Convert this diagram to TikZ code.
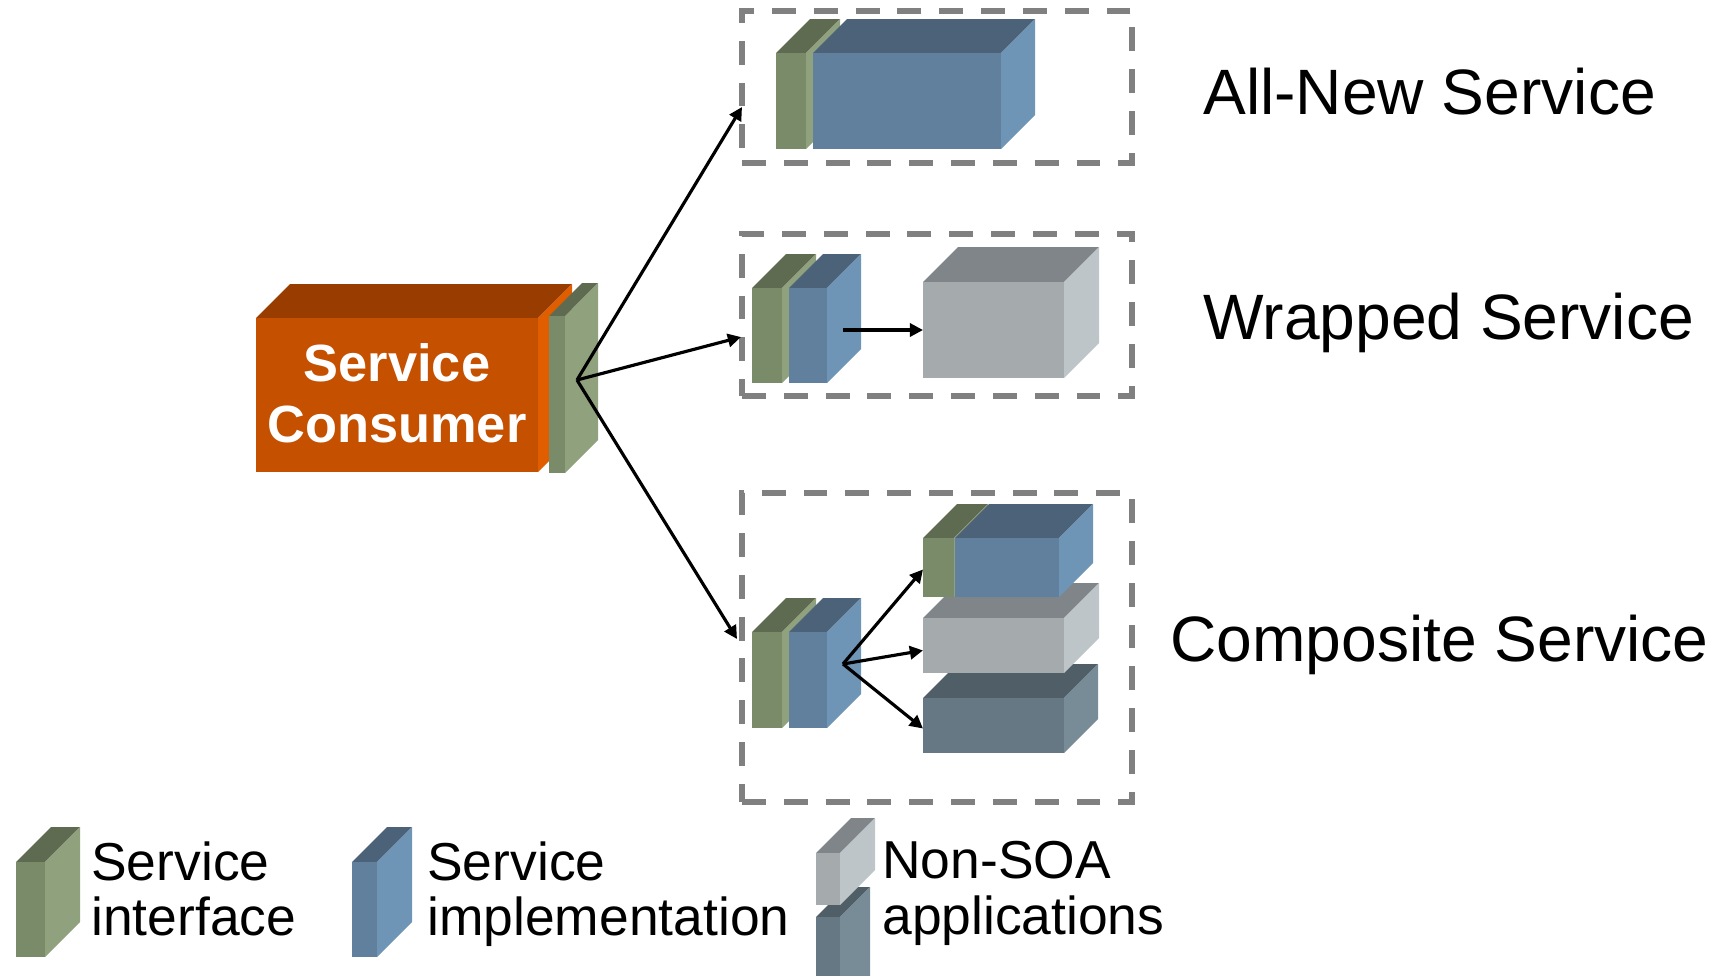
\documentclass[tikz,border=0pt]{standalone}
\usepackage{fontspec}
\setmainfont{Liberation Sans}
\usetikzlibrary{arrows.meta,fit}

% face colours: F = front, S = side, T = top
\definecolor{grnF}{HTML}{7A8B6A}
\definecolor{grnS}{HTML}{8FA17D}
\definecolor{grnT}{HTML}{5F6B50}
\definecolor{bluF}{HTML}{60809D}
\definecolor{bluS}{HTML}{6E94B6}
\definecolor{bluT}{HTML}{4B6279}
\definecolor{gryF}{HTML}{A5AAAD}
\definecolor{gryS}{HTML}{BEC5C9}
\definecolor{gryT}{HTML}{808589}
\definecolor{slaF}{HTML}{657883}
\definecolor{slaS}{HTML}{788C97}
\definecolor{slaT}{HTML}{505F67}
\definecolor{orgF}{HTML}{C45000}
\definecolor{orgS}{HTML}{E05E00}
\definecolor{orgT}{HTML}{993C00}
\definecolor{framegray}{HTML}{808080}

% \cuboid{name}{x1}{y1}{x2}{y2}{depth}{palette}: front face (x1,y1)-(x2,y2) is a node
\newcommand\cuboid[7]{%
  \fill[#7T] (#2,#3) -- ({#2+#6},{#3-#6}) -- ({#4+#6},{#3-#6}) -- (#4,#3) -- cycle;
  \fill[#7S] (#4,#3) -- ({#4+#6},{#3-#6}) -- ({#4+#6},{#5-#6}) -- (#4,#5) -- cycle;
  \node[face, fill=#7F, fit={(#2,#3) (#4,#5)}] (#1) {};
}

\tikzset{
  face/.style={inner sep=0pt, outer sep=0pt},
  groupframe/.style={draw=framegray, line width=2.9pt, dash pattern=on 13.6pt off 10.2pt,
    inner sep=0pt},
  conn/.style={draw=black, line width=1.8pt, -{Triangle[length=7.5pt,width=7.5pt]}},
  kind/.style={font=\fontsize{36.5}{43}\selectfont, anchor=base west, inner sep=0pt},
  legendtext/.style={font=\fontsize{30.4}{31.7}\selectfont, align=left, anchor=north west, inner sep=0pt},
}

\begin{document}
\begin{tikzpicture}[x=0.02cm, y=-0.02cm]
\useasboundingbox (0,0) rectangle (1731,975);

% ---- service consumer ----
\cuboid{consumer}{256}{318}{538}{472}{34}{org}
\cuboid{cif}{549}{316}{565}{473}{33}{grn}
\node[font=\fontsize{29.8}{34.6}\selectfont\bfseries, text=white, align=center]
  at ([yshift=1pt]consumer.center) {Service\\Consumer};
\coordinate (cport) at (577,380);

% ---- all-new service ----
\node[groupframe, fit={(742,11) (1132,163)}] (newgrp) {};
\cuboid{newif}{776}{53}{806}{149}{34}{grn}
\cuboid{newimpl}{813}{53}{1001}{149}{34}{blu}
\coordinate (newin) at (742,107);

% ---- wrapped service ----
\node[groupframe, fit={(742,234) (1132,396)}] (wrapgrp) {};
\cuboid{wrapif}{752}{288}{782}{383}{34}{grn}
\cuboid{wrapimpl}{789}{288}{827}{383}{34}{blu}
\cuboid{legacy}{923}{282}{1064}{378}{35}{gry}
\coordinate (wrapin) at (741,337);
\coordinate (wrapport) at (843,330);

% ---- composite service ----
\node[groupframe, fit={(742,493) (1132,802)}] (compgrp) {};
\cuboid{compif}{752}{632}{782}{728}{34}{grn}
\cuboid{compimpl}{789}{632}{827}{728}{34}{blu}
\cuboid{partC}{923}{698}{1064}{753}{34}{sla}
\cuboid{partB}{923}{618}{1064}{673}{35}{gry}
\cuboid{partAif}{923}{538}{954}{597}{34}{grn}
\cuboid{partAimpl}{955}{538}{1059}{597}{34}{blu}
\coordinate (compin) at (737,639);
\coordinate (compport) at (843,664);

% ---- connectors ----
\draw[conn] (cport) -- (newin);
\draw[conn] (cport) -- (wrapin);
\draw[conn] (cport) -- (compin);
\draw[conn] (wrapport) -- (legacy.west);
\draw[conn] (compport) -- ([yshift=-1.1pt]partAif.west);
\draw[conn] (compport) -- ([yshift=-2.8pt]partB.west);
\draw[conn] (compport) -- ([yshift=-1.7pt]partC.west);

% ---- group labels ----
\node[kind] (lnew) at (1203,114) {All-New Service};
\node[kind] (lwrap) at (1203,339) {Wrapped Service};
\node[kind] (lcomp) at (1170,661) {Composite Service};

% ---- legend ----
\cuboid{keyif}{16}{862}{45}{957}{35}{grn}
\node[legendtext] (tkeyif) at (91,841) {Service\\interface};
\cuboid{keyimpl}{352}{862}{377}{957}{35}{blu}
\node[legendtext] (tkeyimpl) at (427,841) {Service\\implementation};
\cuboid{keyapp2}{816}{917}{840}{1010}{30}{sla}
\cuboid{keyapp1}{816}{853}{840}{905}{35}{gry}
\node[legendtext] (tkeyapp) at (882,841) {Non-SOA\\applications};
\end{tikzpicture}
\end{document}
